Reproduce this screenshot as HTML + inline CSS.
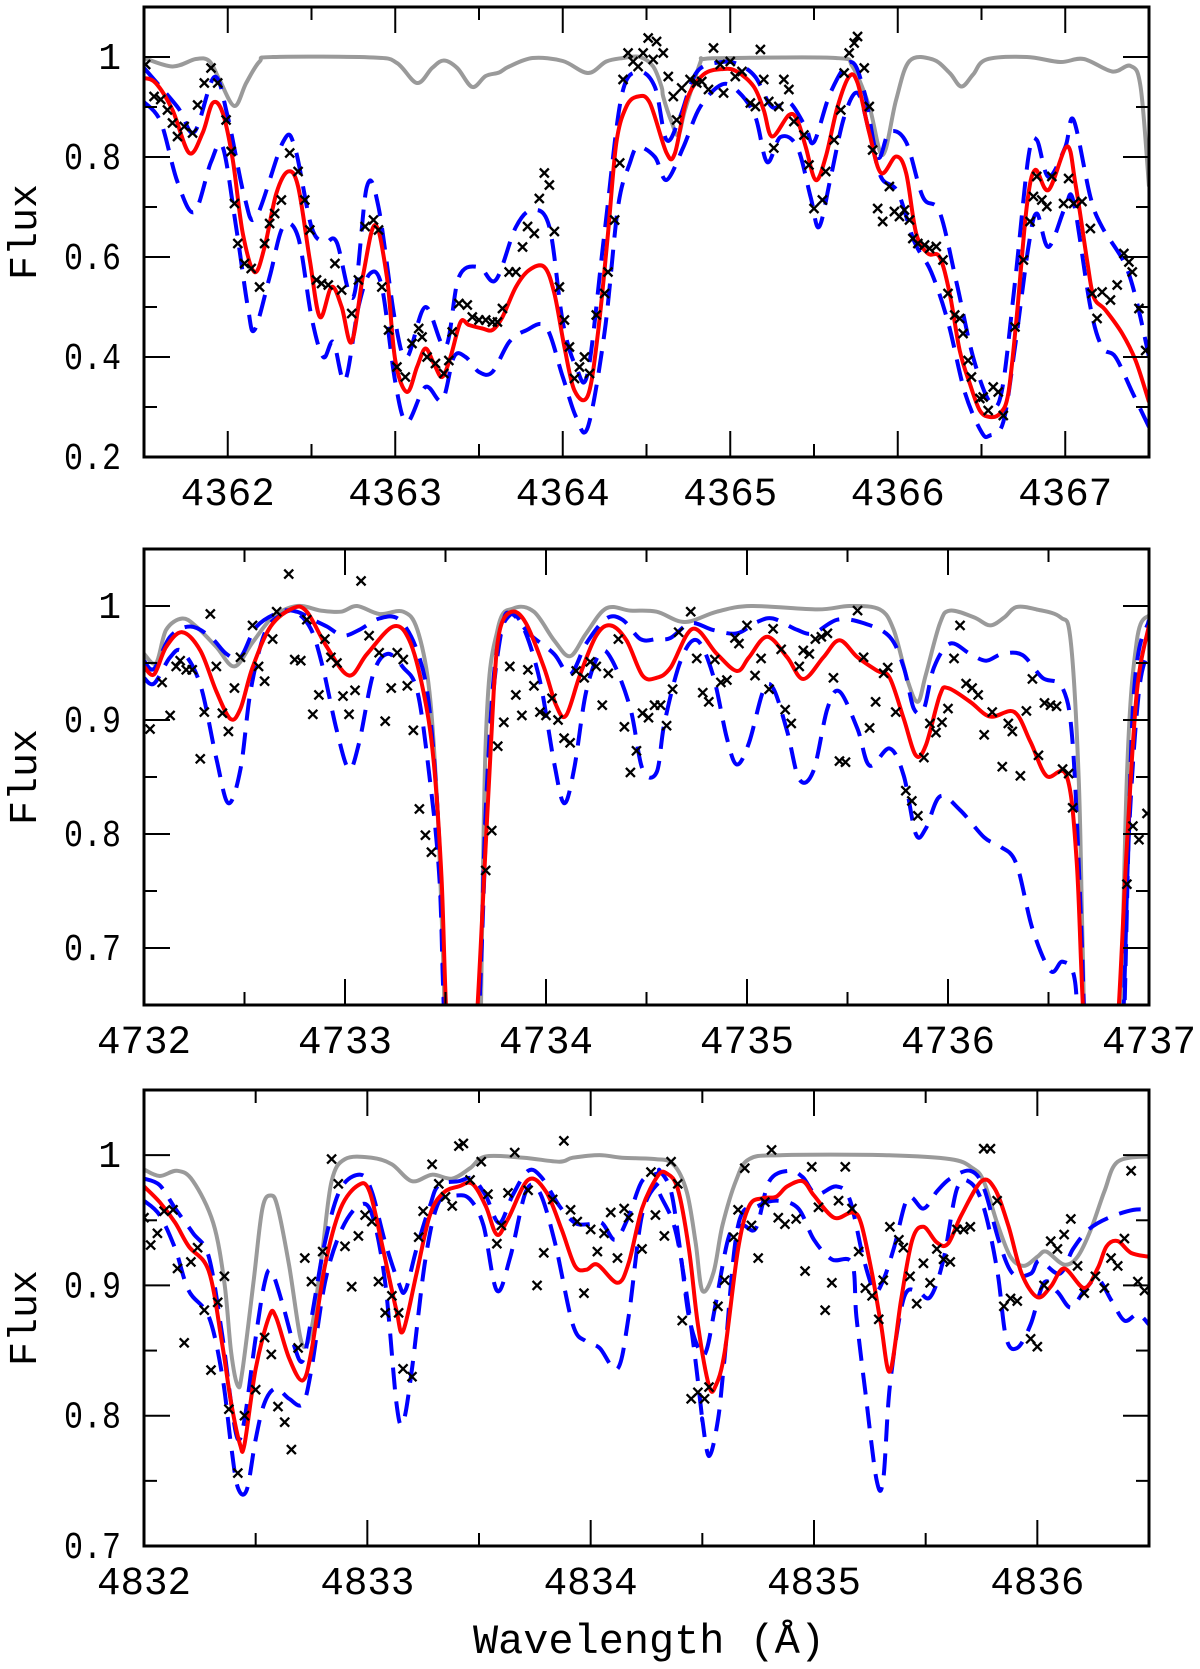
<!DOCTYPE html>
<html><head><meta charset="utf-8"><title>Flux spectra</title>
<style>
html,body{margin:0;padding:0;background:#fff;}
svg{display:block;}
text{font-family:"Liberation Mono",monospace;fill:#000;}
</style></head>
<body>
<svg id="chart" width="1200" height="1669" viewBox="0 0 1200 1669" xmlns="http://www.w3.org/2000/svg">
<defs>
<clipPath id="clip1"><rect x="144" y="7" width="1005" height="450"/></clipPath>
<clipPath id="clip2"><rect x="144" y="549" width="1005" height="456"/></clipPath>
<clipPath id="clip3"><rect x="144" y="1090" width="1005" height="456"/></clipPath>
</defs>
<text x="649" y="1653" font-size="42" text-anchor="middle" textLength="352" lengthAdjust="spacingAndGlyphs">Wavelength (Å)</text>
</svg>
<script>
// ---------- Panel 1 data (4361.5–4367.5 Å) ----------
const p1XTicks = ["4362","4363","4364","4365","4366","4367"];
const p1YTicks = ["0.2","0.4","0.6","0.8","1"];
const p1Gray = [[4361.5,0.998],[4361.67,0.981],[4361.81,0.996],[4361.89,0.992],[4361.95,0.955],[4362.04,0.902],[4362.11,0.948],[4362.19,0.991],[4362.27,1.0],[4362.87,0.999],[4363.01,0.988],[4363.13,0.948],[4363.22,0.978],[4363.29,0.993],[4363.37,0.978],[4363.46,0.94],[4363.54,0.962],[4363.62,0.969],[4363.68,0.981],[4363.82,0.998],[4364.0,0.992],[4364.15,0.968],[4364.26,0.991],[4364.36,0.998],[4364.46,1.0],[4364.54,0.981],[4364.59,0.94],[4364.6,0.92],[4364.65,0.87],[4364.69,0.844],[4364.73,0.894],[4364.82,0.988],[4364.84,0.996],[4365.02,0.998],[4365.63,0.998],[4365.73,0.981],[4365.83,0.901],[4365.91,0.804],[4365.99,0.914],[4366.07,0.992],[4366.21,0.995],[4366.31,0.968],[4366.38,0.941],[4366.45,0.965],[4366.53,0.995],[4366.77,1.0],[4366.97,0.99],[4367.11,0.996],[4367.28,0.971],[4367.39,0.982],[4367.45,0.94],[4367.5,0.741]];
const p1Red = [[4361.5,0.958],[4361.57,0.948],[4361.67,0.894],[4361.77,0.808],[4361.85,0.848],[4361.91,0.908],[4361.97,0.888],[4362.03,0.794],[4362.09,0.647],[4362.16,0.57],[4362.22,0.62],[4362.29,0.727],[4362.36,0.771],[4362.42,0.741],[4362.49,0.594],[4362.55,0.48],[4362.62,0.54],[4362.68,0.5],[4362.74,0.43],[4362.81,0.567],[4362.88,0.664],[4362.95,0.56],[4363.0,0.393],[4363.07,0.33],[4363.13,0.38],[4363.18,0.417],[4363.23,0.387],[4363.28,0.36],[4363.33,0.4],[4363.39,0.47],[4363.44,0.464],[4363.52,0.457],[4363.58,0.454],[4363.64,0.48],[4363.72,0.54],[4363.8,0.574],[4363.89,0.58],[4363.95,0.527],[4364.01,0.42],[4364.07,0.333],[4364.15,0.323],[4364.21,0.447],[4364.27,0.647],[4364.32,0.828],[4364.38,0.901],[4364.45,0.921],[4364.52,0.908],[4364.62,0.808],[4364.67,0.808],[4364.74,0.914],[4364.84,0.965],[4364.96,0.976],[4365.04,0.971],[4365.14,0.941],[4365.2,0.894],[4365.25,0.841],[4365.35,0.884],[4365.4,0.874],[4365.45,0.821],[4365.51,0.754],[4365.57,0.8],[4365.64,0.9],[4365.71,0.961],[4365.76,0.948],[4365.83,0.848],[4365.9,0.768],[4365.99,0.801],[4366.05,0.768],[4366.11,0.647],[4366.18,0.607],[4366.25,0.6],[4366.31,0.527],[4366.37,0.413],[4366.43,0.347],[4366.49,0.293],[4366.55,0.28],[4366.61,0.287],[4366.66,0.327],[4366.71,0.48],[4366.77,0.7],[4366.82,0.774],[4366.9,0.734],[4367.01,0.821],[4367.06,0.748],[4367.13,0.594],[4367.17,0.52],[4367.24,0.494],[4367.34,0.447],[4367.42,0.393],[4367.5,0.31]];
const p1BlueHi = [[4361.5,0.978],[4361.7,0.9],[4361.8,0.85],[4361.92,0.96],[4362.0,0.88],[4362.1,0.72],[4362.17,0.68],[4362.33,0.83],[4362.4,0.82],[4362.5,0.66],[4362.58,0.63],[4362.65,0.63],[4362.75,0.52],[4362.83,0.74],[4362.9,0.7],[4363.0,0.47],[4363.07,0.4],[4363.18,0.5],[4363.3,0.42],[4363.38,0.56],[4363.5,0.58],[4363.6,0.554],[4363.72,0.66],[4363.82,0.694],[4363.92,0.66],[4364.0,0.47],[4364.08,0.38],[4364.15,0.37],[4364.25,0.65],[4364.35,0.92],[4364.45,0.97],[4364.55,0.94],[4364.62,0.834],[4364.7,0.88],[4364.8,0.97],[4364.95,0.99],[4365.05,0.985],[4365.15,0.96],[4365.25,0.9],[4365.35,0.91],[4365.45,0.86],[4365.5,0.83],[4365.6,0.93],[4365.72,0.99],[4365.8,0.93],[4365.88,0.8],[4365.95,0.85],[4366.05,0.83],[4366.15,0.72],[4366.25,0.69],[4366.35,0.55],[4366.45,0.4],[4366.55,0.31],[4366.62,0.33],[4366.7,0.55],[4366.78,0.8],[4366.83,0.834],[4366.9,0.76],[4367.0,0.82],[4367.05,0.874],[4367.15,0.72],[4367.22,0.66],[4367.35,0.59],[4367.42,0.52],[4367.5,0.4]];
const p1BlueLo = [[4361.5,0.91],[4361.6,0.87],[4361.7,0.75],[4361.8,0.69],[4361.9,0.79],[4361.97,0.82],[4362.05,0.66],[4362.12,0.5],[4362.16,0.454],[4362.25,0.56],[4362.33,0.66],[4362.42,0.64],[4362.5,0.48],[4362.57,0.4],[4362.63,0.43],[4362.7,0.353],[4362.78,0.5],[4362.85,0.567],[4362.92,0.54],[4363.0,0.35],[4363.07,0.27],[4363.18,0.34],[4363.28,0.313],[4363.35,0.4],[4363.42,0.4],[4363.5,0.37],[4363.58,0.37],[4363.68,0.43],[4363.78,0.453],[4363.9,0.46],[4364.0,0.36],[4364.08,0.28],[4364.15,0.26],[4364.25,0.45],[4364.33,0.7],[4364.4,0.787],[4364.45,0.82],[4364.55,0.8],[4364.62,0.754],[4364.72,0.82],[4364.82,0.9],[4364.95,0.945],[4365.05,0.93],[4365.15,0.88],[4365.22,0.79],[4365.3,0.84],[4365.4,0.82],[4365.48,0.72],[4365.53,0.66],[4365.6,0.76],[4365.68,0.88],[4365.76,0.928],[4365.83,0.85],[4365.9,0.76],[4366.0,0.73],[4366.1,0.63],[4366.2,0.57],[4366.3,0.47],[4366.4,0.33],[4366.5,0.25],[4366.55,0.243],[4366.63,0.27],[4366.7,0.42],[4366.78,0.62],[4366.83,0.687],[4366.9,0.62],[4367.0,0.7],[4367.05,0.71],[4367.15,0.5],[4367.22,0.42],[4367.3,0.4],[4367.4,0.33],[4367.5,0.26]];
const p1Obs = [[4361.51,0.985],[4361.56,0.921],[4361.6,0.915],[4361.64,0.894],[4361.67,0.868],[4361.7,0.841],[4361.74,0.861],[4361.79,0.848],[4361.82,0.904],[4361.86,0.948],[4361.9,0.978],[4361.94,0.948],[4361.99,0.874],[4362.02,0.811],[4362.04,0.707],[4362.06,0.627],[4362.1,0.587],[4362.14,0.577],[4362.19,0.54],[4362.22,0.627],[4362.25,0.667],[4362.28,0.687],[4362.32,0.714],[4362.37,0.808],[4362.42,0.771],[4362.46,0.714],[4362.49,0.654],[4362.53,0.554],[4362.56,0.547],[4362.6,0.544],[4362.64,0.587],[4362.68,0.534],[4362.74,0.487],[4362.78,0.554],[4362.82,0.661],[4362.87,0.674],[4362.9,0.654],[4362.92,0.54],[4362.96,0.454],[4363.01,0.38],[4363.06,0.36],[4363.1,0.427],[4363.14,0.457],[4363.16,0.44],[4363.19,0.4],[4363.24,0.387],[4363.29,0.367],[4363.32,0.393],[4363.34,0.45],[4363.38,0.507],[4363.43,0.504],[4363.46,0.48],[4363.5,0.474],[4363.54,0.474],[4363.58,0.47],[4363.61,0.47],[4363.64,0.497],[4363.68,0.57],[4363.72,0.57],[4363.76,0.62],[4363.79,0.661],[4363.83,0.647],[4363.86,0.717],[4363.89,0.768],[4363.92,0.744],[4363.95,0.651],[4363.98,0.54],[4364.01,0.474],[4364.04,0.42],[4364.07,0.357],[4364.1,0.38],[4364.13,0.4],[4364.16,0.367],[4364.2,0.484],[4364.25,0.527],[4364.27,0.57],[4364.31,0.674],[4364.34,0.788],[4364.36,0.955],[4364.39,1.008],[4364.42,0.991],[4364.45,0.981],[4364.48,1.008],[4364.51,1.038],[4364.54,0.995],[4364.56,1.031],[4364.6,1.008],[4364.63,0.961],[4364.66,0.921],[4364.68,0.874],[4364.71,0.938],[4364.76,0.955],[4364.8,0.948],[4364.83,0.951],[4364.87,0.935],[4364.9,1.018],[4364.94,0.985],[4364.96,0.928],[4365.0,0.991],[4365.03,0.961],[4365.07,0.971],[4365.12,0.908],[4365.15,0.901],[4365.18,1.015],[4365.2,0.955],[4365.23,0.911],[4365.26,0.818],[4365.29,0.901],[4365.32,0.955],[4365.35,0.935],[4365.38,0.871],[4365.44,0.844],[4365.47,0.784],[4365.5,0.697],[4365.55,0.714],[4365.57,0.771],[4365.62,0.834],[4365.66,0.894],[4365.68,0.968],[4365.71,1.008],[4365.74,1.028],[4365.76,1.041],[4365.8,0.978],[4365.83,0.901],[4365.85,0.814],[4365.88,0.697],[4365.91,0.671],[4365.95,0.741],[4365.98,0.691],[4366.01,0.681],[4366.04,0.694],[4366.07,0.674],[4366.09,0.637],[4366.12,0.627],[4366.16,0.624],[4366.19,0.617],[4366.23,0.621],[4366.27,0.594],[4366.3,0.527],[4366.34,0.484],[4366.37,0.477],[4366.39,0.447],[4366.42,0.393],[4366.44,0.36],[4366.49,0.317],[4366.51,0.32],[4366.54,0.293],[4366.57,0.34],[4366.6,0.33],[4366.63,0.283],[4366.7,0.46],[4366.75,0.594],[4366.79,0.671],[4366.81,0.721],[4366.83,0.761],[4366.86,0.714],[4366.89,0.701],[4366.92,0.761],[4366.99,0.707],[4367.02,0.757],[4367.05,0.707],[4367.1,0.711],[4367.15,0.657],[4367.16,0.527],[4367.19,0.477],[4367.22,0.53],[4367.27,0.514],[4367.31,0.544],[4367.35,0.607],[4367.38,0.59],[4367.4,0.57],[4367.44,0.497],[4367.48,0.413]];

// ---------- Panel 2 data (4732–4737 Å) ----------
const p2XTicks = ["4732","4733","4734","4735","4736","4737"];
const p2YTicks = ["0.7","0.8","0.9","1"];
const p2Gray = [[4732.0,0.958],[4732.06,0.95],[4732.11,0.979],[4732.19,0.989],[4732.26,0.982],[4732.36,0.964],[4732.45,0.947],[4732.54,0.968],[4732.64,0.99],[4732.76,1.0],[4732.88,0.996],[4732.98,0.995],[4733.06,1.0],[4733.17,0.993],[4733.29,0.995],[4733.36,0.979],[4733.42,0.925],[4733.46,0.821],[4733.49,0.68],[4733.52,0.5],[4733.6,0.4],[4733.66,0.5],[4733.7,0.88],[4733.76,0.98],[4733.84,0.998],[4733.94,0.995],[4734.04,0.97],[4734.12,0.956],[4734.2,0.976],[4734.3,0.998],[4734.42,0.996],[4734.55,0.995],[4734.69,0.986],[4734.85,0.995],[4735.02,1.0],[4735.35,0.997],[4735.51,1.0],[4735.66,0.997],[4735.73,0.979],[4735.8,0.934],[4735.85,0.916],[4735.89,0.94],[4735.96,0.985],[4736.01,0.996],[4736.13,0.99],[4736.21,0.983],[4736.28,0.99],[4736.34,0.999],[4736.44,0.997],[4736.56,0.99],[4736.61,0.97],[4736.65,0.851],[4736.67,0.7],[4736.7,0.5],[4736.78,0.4],[4736.84,0.5],[4736.89,0.85],[4736.94,0.97],[4737.0,0.992]];
const p2Red = [[4732.0,0.947],[4732.05,0.94],[4732.11,0.964],[4732.19,0.977],[4732.28,0.961],[4732.36,0.925],[4732.43,0.901],[4732.48,0.91],[4732.54,0.946],[4732.63,0.982],[4732.74,0.998],[4732.81,0.995],[4732.91,0.964],[4733.02,0.939],[4733.11,0.958],[4733.24,0.982],[4733.32,0.97],[4733.39,0.925],[4733.44,0.866],[4733.48,0.762],[4733.51,0.62],[4733.58,0.45],[4733.65,0.62],[4733.7,0.79],[4733.74,0.925],[4733.77,0.979],[4733.83,0.995],[4733.9,0.985],[4733.99,0.946],[4734.05,0.913],[4734.1,0.904],[4734.17,0.94],[4734.25,0.974],[4734.32,0.983],[4734.4,0.97],[4734.48,0.939],[4734.55,0.937],[4734.62,0.946],[4734.73,0.98],[4734.85,0.958],[4734.95,0.943],[4735.01,0.955],[4735.1,0.973],[4735.2,0.955],[4735.28,0.936],[4735.38,0.955],[4735.46,0.97],[4735.55,0.955],[4735.65,0.943],[4735.71,0.937],[4735.78,0.901],[4735.84,0.869],[4735.89,0.878],[4735.96,0.922],[4736.0,0.928],[4736.11,0.916],[4736.21,0.903],[4736.33,0.907],[4736.41,0.881],[4736.49,0.851],[4736.59,0.851],[4736.64,0.777],[4736.68,0.62],[4736.76,0.45],[4736.84,0.62],[4736.89,0.79],[4736.94,0.925],[4737.0,0.983]];
const p2BlueHi = [[4732.0,0.952],[4732.05,0.945],[4732.13,0.973],[4732.23,0.982],[4732.33,0.973],[4732.41,0.958],[4732.48,0.955],[4732.56,0.982],[4732.68,0.995],[4732.76,0.995],[4732.84,0.988],[4732.91,0.982],[4732.99,0.974],[4733.07,0.979],[4733.17,0.989],[4733.27,0.988],[4733.36,0.96],[4733.42,0.91],[4733.47,0.79],[4733.5,0.62],[4733.58,0.45],[4733.66,0.62],[4733.72,0.88],[4733.78,0.98],[4733.83,0.993],[4733.92,0.975],[4734.04,0.958],[4734.12,0.94],[4734.2,0.967],[4734.3,0.989],[4734.38,0.988],[4734.47,0.971],[4734.55,0.971],[4734.62,0.972],[4734.72,0.985],[4734.83,0.979],[4734.95,0.976],[4735.05,0.986],[4735.13,0.989],[4735.25,0.979],[4735.33,0.976],[4735.45,0.988],[4735.58,0.985],[4735.71,0.973],[4735.78,0.946],[4735.83,0.91],[4735.88,0.91],[4735.93,0.946],[4736.01,0.967],[4736.11,0.958],[4736.19,0.952],[4736.27,0.958],[4736.37,0.957],[4736.47,0.937],[4736.57,0.928],[4736.62,0.88],[4736.66,0.732],[4736.7,0.55],[4736.78,0.42],[4736.86,0.55],[4736.92,0.91],[4737.0,0.988]];
const p2BlueLo = [[4732.0,0.937],[4732.05,0.932],[4732.13,0.955],[4732.19,0.96],[4732.28,0.931],[4732.36,0.866],[4732.42,0.827],[4732.48,0.857],[4732.53,0.925],[4732.6,0.976],[4732.68,0.992],[4732.75,0.995],[4732.83,0.98],[4732.89,0.946],[4732.96,0.89],[4733.02,0.857],[4733.07,0.88],[4733.14,0.94],[4733.21,0.958],[4733.29,0.946],[4733.36,0.925],[4733.42,0.851],[4733.47,0.76],[4733.5,0.62],[4733.58,0.45],[4733.66,0.62],[4733.7,0.82],[4733.75,0.955],[4733.82,0.992],[4733.89,0.98],[4733.97,0.934],[4734.04,0.863],[4734.09,0.827],[4734.14,0.857],[4734.2,0.925],[4734.27,0.959],[4734.33,0.952],[4734.42,0.91],[4734.48,0.857],[4734.55,0.854],[4734.59,0.898],[4734.67,0.952],[4734.75,0.97],[4734.83,0.94],[4734.9,0.884],[4734.95,0.861],[4735.01,0.88],[4735.08,0.925],[4735.13,0.928],[4735.2,0.89],[4735.26,0.848],[4735.33,0.855],[4735.4,0.91],[4735.46,0.925],[4735.55,0.892],[4735.61,0.86],[4735.71,0.875],[4735.78,0.851],[4735.84,0.8],[4735.89,0.805],[4735.96,0.833],[4736.06,0.821],[4736.18,0.797],[4736.26,0.789],[4736.34,0.774],[4736.42,0.717],[4736.51,0.68],[4736.57,0.688],[4736.63,0.673],[4736.66,0.6],[4736.76,0.45],[4736.86,0.6],[4736.9,0.8],[4736.95,0.925],[4737.0,0.961]];
const p2Obs = [[4732.03,0.892],[4732.09,0.933],[4732.13,0.904],[4732.16,0.947],[4732.18,0.952],[4732.21,0.944],[4732.24,0.944],[4732.28,0.866],[4732.3,0.907],[4732.33,0.993],[4732.36,0.947],[4732.39,0.906],[4732.42,0.89],[4732.45,0.928],[4732.48,0.955],[4732.54,0.983],[4732.57,0.947],[4732.6,0.934],[4732.64,0.971],[4732.66,0.995],[4732.72,1.028],[4732.75,0.953],[4732.78,0.952],[4732.81,0.988],[4732.84,0.905],[4732.87,0.922],[4732.9,0.971],[4732.93,0.955],[4732.96,0.95],[4732.99,0.921],[4733.02,0.905],[4733.05,0.926],[4733.08,1.022],[4733.12,0.974],[4733.17,0.959],[4733.2,0.899],[4733.23,0.928],[4733.26,0.959],[4733.29,0.953],[4733.31,0.93],[4733.34,0.891],[4733.37,0.822],[4733.4,0.799],[4733.43,0.784],[4733.7,0.768],[4733.73,0.803],[4733.76,0.877],[4733.79,0.898],[4733.82,0.947],[4733.85,0.922],[4733.88,0.904],[4733.91,0.944],[4733.94,0.93],[4733.97,0.907],[4734.0,0.904],[4734.03,0.919],[4734.06,0.9],[4734.09,0.884],[4734.12,0.88],[4734.15,0.943],[4734.19,0.937],[4734.22,0.951],[4734.25,0.947],[4734.28,0.913],[4734.31,0.941],[4734.36,0.971],[4734.39,0.894],[4734.42,0.854],[4734.45,0.873],[4734.48,0.906],[4734.51,0.902],[4734.54,0.913],[4734.57,0.913],[4734.6,0.895],[4734.63,0.927],[4734.66,0.977],[4734.72,0.995],[4734.75,0.954],[4734.78,0.924],[4734.81,0.916],[4734.84,0.953],[4734.87,0.933],[4734.9,0.935],[4734.94,0.972],[4734.96,0.967],[4735.0,0.983],[4735.04,0.939],[4735.07,0.954],[4735.11,0.927],[4735.13,0.98],[4735.17,0.962],[4735.19,0.909],[4735.22,0.897],[4735.26,0.947],[4735.28,0.961],[4735.31,0.958],[4735.34,0.971],[4735.37,0.973],[4735.4,0.976],[4735.43,0.937],[4735.46,0.864],[4735.49,0.863],[4735.55,0.996],[4735.58,0.955],[4735.61,0.893],[4735.64,0.916],[4735.68,0.941],[4735.7,0.946],[4735.74,0.907],[4735.79,0.838],[4735.82,0.829],[4735.85,0.816],[4735.88,0.867],[4735.91,0.897],[4735.94,0.889],[4735.97,0.898],[4736.0,0.91],[4736.03,0.954],[4736.06,0.983],[4736.09,0.932],[4736.12,0.928],[4736.15,0.922],[4736.18,0.887],[4736.22,0.907],[4736.27,0.859],[4736.3,0.897],[4736.32,0.89],[4736.36,0.851],[4736.39,0.908],[4736.42,0.936],[4736.45,0.869],[4736.48,0.915],[4736.51,0.913],[4736.54,0.912],[4736.57,0.857],[4736.6,0.853],[4736.62,0.823],[4736.89,0.756],[4736.92,0.807],[4736.95,0.795],[4736.99,0.818]];

// ---------- Panel 3 data (4832–4836.5 Å) ----------
const p3XTicks = ["4832","4833","4834","4835","4836"];
const p3YTicks = ["0.7","0.8","0.9","1"];
const p3Gray = [[4832.0,0.989],[4832.07,0.984],[4832.15,0.988],[4832.22,0.98],[4832.31,0.948],[4832.36,0.902],[4832.39,0.849],[4832.42,0.823],[4832.44,0.834],[4832.49,0.902],[4832.53,0.959],[4832.57,0.969],[4832.6,0.959],[4832.65,0.915],[4832.7,0.86],[4832.73,0.855],[4832.76,0.876],[4832.8,0.928],[4832.84,0.98],[4832.9,0.997],[4833.02,0.998],[4833.11,0.993],[4833.2,0.98],[4833.29,0.985],[4833.38,0.982],[4833.46,0.99],[4833.53,0.999],[4833.7,0.998],[4833.86,0.995],[4833.92,0.998],[4834.04,1.0],[4834.14,0.998],[4834.29,0.997],[4834.37,0.993],[4834.43,0.972],[4834.47,0.933],[4834.5,0.896],[4834.55,0.91],[4834.59,0.946],[4834.65,0.98],[4834.71,0.997],[4834.86,1.0],[4835.31,1.0],[4835.61,0.997],[4835.71,0.99],[4835.76,0.98],[4835.82,0.948],[4835.88,0.922],[4835.94,0.915],[4836.0,0.922],[4836.04,0.926],[4836.12,0.916],[4836.18,0.922],[4836.24,0.943],[4836.3,0.972],[4836.36,0.995],[4836.5,0.999]];
const p3Red = [[4832.0,0.976],[4832.07,0.964],[4832.14,0.948],[4832.2,0.93],[4832.29,0.911],[4832.35,0.855],[4832.39,0.81],[4832.43,0.778],[4832.45,0.778],[4832.5,0.836],[4832.56,0.876],[4832.59,0.876],[4832.65,0.844],[4832.71,0.827],[4832.75,0.85],[4832.81,0.915],[4832.88,0.959],[4832.96,0.977],[4833.01,0.972],[4833.07,0.928],[4833.13,0.881],[4833.16,0.865],[4833.22,0.909],[4833.28,0.954],[4833.34,0.971],[4833.41,0.976],[4833.47,0.978],[4833.53,0.961],[4833.58,0.939],[4833.63,0.951],[4833.72,0.981],[4833.8,0.972],[4833.87,0.943],[4833.93,0.915],[4833.98,0.912],[4834.03,0.916],[4834.12,0.902],[4834.17,0.917],[4834.23,0.959],[4834.3,0.984],[4834.34,0.986],[4834.39,0.974],[4834.44,0.928],[4834.48,0.87],[4834.53,0.823],[4834.56,0.823],[4834.6,0.849],[4834.66,0.928],[4834.71,0.961],[4834.77,0.967],[4834.83,0.968],[4834.88,0.976],[4834.95,0.98],[4835.0,0.969],[4835.09,0.952],[4835.17,0.956],[4835.21,0.948],[4835.26,0.909],[4835.3,0.87],[4835.34,0.834],[4835.39,0.889],[4835.44,0.935],[4835.49,0.945],[4835.55,0.933],[4835.6,0.932],[4835.66,0.954],[4835.75,0.98],[4835.81,0.974],[4835.87,0.946],[4835.93,0.909],[4836.0,0.891],[4836.06,0.899],[4836.12,0.913],[4836.21,0.898],[4836.27,0.913],[4836.31,0.93],[4836.36,0.934],[4836.42,0.925],[4836.5,0.922]];
const p3BlueHi = [[4832.0,0.982],[4832.07,0.977],[4832.14,0.959],[4832.22,0.94],[4832.29,0.922],[4832.35,0.862],[4832.39,0.81],[4832.42,0.782],[4832.45,0.797],[4832.5,0.86],[4832.54,0.902],[4832.57,0.911],[4832.62,0.886],[4832.67,0.855],[4832.71,0.842],[4832.75,0.875],[4832.81,0.933],[4832.88,0.974],[4832.97,0.985],[4833.02,0.972],[4833.08,0.933],[4833.14,0.902],[4833.17,0.896],[4833.22,0.928],[4833.28,0.961],[4833.32,0.977],[4833.41,0.98],[4833.47,0.982],[4833.53,0.969],[4833.59,0.948],[4833.65,0.969],[4833.72,0.988],[4833.78,0.983],[4833.86,0.961],[4833.93,0.948],[4833.99,0.947],[4834.05,0.948],[4834.11,0.935],[4834.17,0.953],[4834.23,0.98],[4834.3,0.986],[4834.31,0.988],[4834.36,0.972],[4834.4,0.928],[4834.44,0.876],[4834.49,0.849],[4834.52,0.851],[4834.56,0.886],[4834.62,0.938],[4834.68,0.946],[4834.74,0.944],[4834.8,0.98],[4834.89,0.988],[4834.95,0.983],[4835.01,0.97],[4835.1,0.976],[4835.16,0.966],[4835.22,0.922],[4835.27,0.896],[4835.31,0.904],[4835.36,0.93],[4835.42,0.967],[4835.49,0.959],[4835.55,0.972],[4835.61,0.982],[4835.7,0.988],[4835.76,0.975],[4835.83,0.933],[4835.89,0.909],[4835.97,0.909],[4836.01,0.919],[4836.1,0.909],[4836.16,0.928],[4836.23,0.943],[4836.32,0.952],[4836.43,0.958],[4836.5,0.958]];
const p3BlueLo = [[4832.0,0.965],[4832.07,0.954],[4832.14,0.928],[4832.2,0.896],[4832.29,0.876],[4832.35,0.831],[4832.39,0.777],[4832.42,0.745],[4832.46,0.743],[4832.5,0.782],[4832.54,0.81],[4832.59,0.821],[4832.65,0.813],[4832.71,0.809],[4832.75,0.836],[4832.81,0.902],[4832.88,0.941],[4832.96,0.961],[4833.02,0.955],[4833.08,0.902],[4833.13,0.81],[4833.16,0.795],[4833.2,0.836],[4833.26,0.92],[4833.32,0.964],[4833.4,0.969],[4833.46,0.966],[4833.52,0.946],[4833.58,0.896],[4833.64,0.922],[4833.71,0.972],[4833.77,0.972],[4833.84,0.933],[4833.92,0.87],[4833.98,0.857],[4834.04,0.852],[4834.12,0.836],[4834.17,0.876],[4834.23,0.954],[4834.3,0.978],[4834.31,0.97],[4834.37,0.948],[4834.41,0.915],[4834.46,0.855],[4834.5,0.797],[4834.5,0.797],[4834.53,0.769],[4834.57,0.797],[4834.6,0.845],[4834.66,0.946],[4834.75,0.961],[4834.84,0.965],[4834.93,0.959],[4835.0,0.935],[4835.08,0.92],[4835.17,0.917],[4835.19,0.876],[4835.23,0.818],[4835.28,0.751],[4835.31,0.751],[4835.34,0.823],[4835.4,0.889],[4835.46,0.896],[4835.52,0.891],[4835.58,0.92],[4835.64,0.974],[4835.7,0.979],[4835.76,0.96],[4835.82,0.912],[4835.86,0.86],[4835.91,0.852],[4835.97,0.87],[4836.03,0.902],[4836.09,0.895],[4836.15,0.883],[4836.21,0.896],[4836.27,0.905],[4836.33,0.889],[4836.39,0.873],[4836.45,0.878],[4836.5,0.87]];
const p3Obs = [[4832.0,0.952],[4832.03,0.931],[4832.06,0.94],[4832.09,0.957],[4832.13,0.958],[4832.15,0.913],[4832.18,0.856],[4832.21,0.918],[4832.24,0.929],[4832.27,0.881],[4832.3,0.835],[4832.33,0.887],[4832.36,0.907],[4832.38,0.805],[4832.42,0.756],[4832.45,0.8],[4832.5,0.82],[4832.54,0.86],[4832.57,0.847],[4832.6,0.807],[4832.63,0.795],[4832.66,0.774],[4832.69,0.852],[4832.72,0.921],[4832.75,0.903],[4832.8,0.926],[4832.84,0.997],[4832.87,0.978],[4832.9,0.93],[4832.93,0.899],[4832.96,0.938],[4832.99,0.954],[4833.02,0.949],[4833.05,0.903],[4833.08,0.879],[4833.11,0.892],[4833.14,0.879],[4833.16,0.836],[4833.2,0.83],[4833.23,0.937],[4833.25,0.957],[4833.29,0.993],[4833.32,0.978],[4833.35,0.968],[4833.38,0.961],[4833.41,1.007],[4833.43,1.009],[4833.46,0.981],[4833.51,0.995],[4833.54,0.97],[4833.58,0.932],[4833.6,0.946],[4833.63,0.971],[4833.66,1.002],[4833.72,0.973],[4833.76,0.9],[4833.79,0.925],[4833.83,0.966],[4833.88,1.011],[4833.91,0.958],[4833.94,0.949],[4833.97,0.894],[4834.0,0.943],[4834.03,0.926],[4834.06,0.94],[4834.09,0.956],[4834.12,0.921],[4834.15,0.959],[4834.17,0.952],[4834.23,0.928],[4834.27,0.987],[4834.29,0.954],[4834.33,0.938],[4834.36,0.995],[4834.39,0.978],[4834.41,0.873],[4834.45,0.813],[4834.48,0.818],[4834.51,0.813],[4834.53,0.822],[4834.57,0.884],[4834.6,0.904],[4834.64,0.937],[4834.66,0.958],[4834.69,0.99],[4834.72,0.946],[4834.75,0.921],[4834.78,0.964],[4834.81,1.004],[4834.84,0.952],[4834.87,0.947],[4834.92,0.951],[4834.96,0.911],[4834.99,0.991],[4835.02,0.96],[4835.05,0.881],[4835.08,0.902],[4835.11,0.965],[4835.14,0.991],[4835.17,0.959],[4835.2,0.926],[4835.23,0.898],[4835.26,0.892],[4835.29,0.874],[4835.31,0.904],[4835.34,0.945],[4835.38,0.935],[4835.4,0.929],[4835.43,0.907],[4835.46,0.886],[4835.49,0.917],[4835.52,0.902],[4835.55,0.928],[4835.58,0.92],[4835.61,0.918],[4835.64,0.943],[4835.67,0.943],[4835.7,0.945],[4835.76,1.005],[4835.79,1.005],[4835.82,0.965],[4835.85,0.884],[4835.88,0.89],[4835.91,0.888],[4835.97,0.859],[4836.0,0.853],[4836.03,0.9],[4836.06,0.934],[4836.09,0.928],[4836.12,0.939],[4836.15,0.951],[4836.18,0.915],[4836.21,0.894],[4836.26,0.907],[4836.3,0.898],[4836.33,0.921],[4836.36,0.915],[4836.39,0.936],[4836.42,0.988],[4836.45,0.903],[4836.48,0.896]];

const NS = "http://www.w3.org/2000/svg";
const svg = document.getElementById("chart");

function mk(tag, attrs, parent) {
  const el = document.createElementNS(NS, tag);
  for (const k in attrs) el.setAttribute(k, attrs[k]);
  (parent || svg).appendChild(el);
  return el;
}

function smoothPath(pts) {
  let d = "M" + pts[0][0].toFixed(1) + "," + pts[0][1].toFixed(1);
  for (let i = 0; i < pts.length - 1; i++) {
    const p0 = pts[Math.max(0, i - 1)], p1 = pts[i], p2 = pts[i + 1], p3 = pts[Math.min(pts.length - 1, i + 2)];
    const c1x = p1[0] + (p2[0] - p0[0]) / 6, c1y = p1[1] + (p2[1] - p0[1]) / 6;
    const c2x = p2[0] - (p3[0] - p1[0]) / 6, c2y = p2[1] - (p3[1] - p1[1]) / 6;
    d += "C" + c1x.toFixed(1) + "," + c1y.toFixed(1) + " " + c2x.toFixed(1) + "," + c2y.toFixed(1) + " " + p2[0].toFixed(1) + "," + p2[1].toFixed(1);
  }
  return d;
}

function drawPanel(cfg) {
  const g = mk("g", {});
  
  
  const xs = v => cfg.x0 + (v - cfg.lmin) / (cfg.lmax - cfg.lmin) * (cfg.x1 - cfg.x0);
  const ys = v => cfg.y1 - (v - cfg.fmin) / (cfg.fmax - cfg.fmin) * (cfg.y1 - cfg.y0);
  const plot = mk("g", { "clip-path": "url(#" + cfg.clip + ")" }, g);
  
  

  const series = [
    { data: cfg.gray, color: "#9a9a9a", dash: null, name: "model-gray-line" },
    { data: cfg.blueHi, color: "#0000ff", dash: "22 12", name: "model-blue-upper-dashed" },
    { data: cfg.blueLo, color: "#0000ff", dash: "22 12", name: "model-blue-lower-dashed" },
    { data: cfg.red, color: "#ff0000", dash: null, name: "model-red-best-fit" }
  ];
  series.forEach(s => {
    const pts = s.data.map(p => [xs(p[0]), ys(p[1])]);
    const path = mk("path", { d: smoothPath(pts), fill: "none", stroke: s.color, "stroke-width": 4, "stroke-linejoin": "round" }, plot);
    if (s.dash) path.setAttribute("stroke-dasharray", s.dash);
    
    
  });
  const obsG = mk("g", { stroke: "#000", "stroke-width": 2.3 }, plot);
  
  
  cfg.obs.forEach(p => {
    const cx = xs(p[0]), cy = ys(p[1]), r = 4.5;
    const m = mk("path", { d: "M" + (cx - r) + "," + (cy - r) + "L" + (cx + r) + "," + (cy + r) + "M" + (cx - r) + "," + (cy + r) + "L" + (cx + r) + "," + (cy - r) }, obsG);
    
    
  });

  // ticks
  const tg = mk("g", { stroke: "#000", "stroke-width": 2 }, g);
  
  
  const nx = Math.round((cfg.lmax - cfg.lmin) / cfg.xMinor);
  for (let i = 0; i <= nx; i++) {
    const v = cfg.lmin + i * cfg.xMinor;
    const major = Math.abs(v / cfg.xMajor - Math.round(v / cfg.xMajor)) < 1e-6;
    const L = major ? 26 : 13, x = xs(v);
    mk("line", { x1: x, y1: cfg.y1, x2: x, y2: cfg.y1 - L }, tg);
    mk("line", { x1: x, y1: cfg.y0, x2: x, y2: cfg.y0 + L }, tg);
  }
  const ny = Math.round((cfg.fmax - cfg.fmin) / cfg.yMinor);
  for (let i = 0; i <= ny; i++) {
    const v = cfg.fmin + i * cfg.yMinor;
    const major = Math.abs(v / cfg.yMajor - Math.round(v / cfg.yMajor)) < 1e-6;
    const L = major ? 26 : 13, y = ys(v);
    mk("line", { x1: cfg.x0, y1: y, x2: cfg.x0 + L, y2: y }, tg);
    mk("line", { x1: cfg.x1, y1: y, x2: cfg.x1 - L, y2: y }, tg);
  }
  const frame = mk("rect", { x: cfg.x0, y: cfg.y0, width: cfg.x1 - cfg.x0, height: cfg.y1 - cfg.y0, fill: "none", stroke: "#000", "stroke-width": 3 }, g);
  
  

  cfg.xTicks.forEach(t => {
    const tx = mk("text", { x: xs(parseFloat(t)), y: cfg.y1 + 48, "font-size": 40, "text-anchor": "middle", textLength: 94, lengthAdjust: "spacingAndGlyphs" }, g);
    tx.textContent = t;
    
    
  });
  cfg.yTicks.forEach(t => {
    const attrs = { x: 121, y: ys(parseFloat(t)) + 12, "font-size": 38, "text-anchor": "end" };
    if (t.length === 3) { attrs.textLength = 57; attrs.lengthAdjust = "spacingAndGlyphs"; }
    const ty = mk("text", attrs, g);
    ty.textContent = t;
    
    
  });
  const cy = (cfg.y0 + cfg.y1) / 2;
  const yl = mk("text", { x: 36, y: cy, "font-size": 40, "text-anchor": "middle", transform: "rotate(-90 36 " + cy + ")", textLength: 96, lengthAdjust: "spacingAndGlyphs" }, g);
  yl.textContent = "Flux";
  
  
}

drawPanel({ name: "panel-4362", clip: "clip1", x0: 144, x1: 1149, y0: 7, y1: 457, lmin: 4361.5, lmax: 4367.5, fmin: 0.2, fmax: 1.1,
  xMinor: 0.5, xMajor: 1, yMinor: 0.1, yMajor: 0.2, xTicks: p1XTicks, yTicks: p1YTicks,
  gray: p1Gray, red: p1Red, blueHi: p1BlueHi, blueLo: p1BlueLo, obs: p1Obs });
drawPanel({ name: "panel-4734", clip: "clip2", x0: 144, x1: 1149, y0: 549, y1: 1005, lmin: 4732, lmax: 4737, fmin: 0.65, fmax: 1.05,
  xMinor: 0.5, xMajor: 1, yMinor: 0.05, yMajor: 0.1, xTicks: p2XTicks, yTicks: p2YTicks,
  gray: p2Gray, red: p2Red, blueHi: p2BlueHi, blueLo: p2BlueLo, obs: p2Obs });
drawPanel({ name: "panel-4834", clip: "clip3", x0: 144, x1: 1149, y0: 1090, y1: 1546, lmin: 4832, lmax: 4836.5, fmin: 0.7, fmax: 1.05,
  xMinor: 0.5, xMajor: 1, yMinor: 0.05, yMajor: 0.1, xTicks: p3XTicks, yTicks: p3YTicks,
  gray: p3Gray, red: p3Red, blueHi: p3BlueHi, blueLo: p3BlueLo, obs: p3Obs });
</script>
</body></html>
